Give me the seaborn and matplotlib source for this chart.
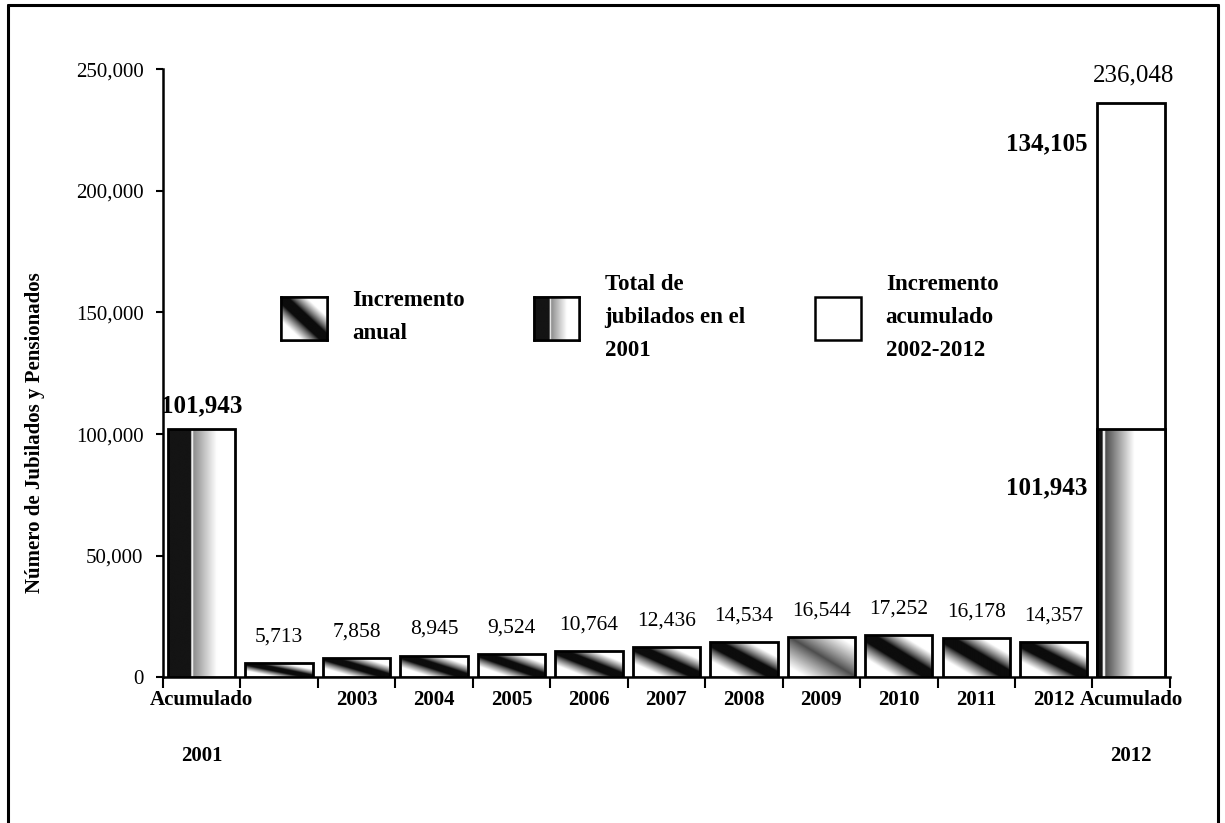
import numpy as np
import pandas as pd
import matplotlib
matplotlib.use("Agg")
import matplotlib.pyplot as plt
from matplotlib.lines import Line2D
from matplotlib.patches import Patch
from matplotlib.ticker import FixedLocator, FuncFormatter
import seaborn as sns

# ---- datos ----
categorias = ["Acumulado\n2001", "2002", "2003", "2004", "2005", "2006", "2007",
              "2008", "2009", "2010", "2011", "2012", "Acumulado\n2012"]
etiquetas_x = ["Acumulado\n2001", "", "2003", "2004", "2005", "2006", "2007",
               "2008", "2009", "2010", "2011", "2012", "Acumulado\n2012"]
anios = ["2002", "2003", "2004", "2005", "2006", "2007", "2008", "2009",
         "2010", "2011", "2012"]
incremento_anual = [5713, 7858, 8945, 9524, 10764, 12436, 14534, 16544,
                    17252, 16178, 14357]
total_2001 = 101943
incremento_acumulado = 134105
total_2012 = 236048
y_ticks = [0, 50000, 100000, 150000, 200000, 250000]
leyenda = ["Incremento\nanual", "Total de\njubilados en el\n2001",
           "Incremento\nacumulado\n2002-2012"]

sns.set_theme(style="white")
plt.rcParams["font.family"] = ["Liberation Serif", "DejaVu Serif"]

fig = plt.figure(figsize=(12.25, 8.23), dpi=100)
ax = fig.add_axes([0.133, 0.177, 0.822, 0.739])

ANCHO = 0.87
bar_kw = dict(order=categorias, edgecolor="black", linewidth=2.0, width=ANCHO,
              saturation=1, errorbar=None, ax=ax)

# barra total 2012 (parte blanca superior)
df_total = pd.DataFrame({"cat": ["Acumulado\n2012"], "val": [total_2012]})
sns.barplot(data=df_total, x="cat", y="val", color="white", zorder=1, **bar_kw)

# incrementos anuales
n0 = len(ax.patches)
df_anual = pd.DataFrame({"cat": anios, "val": incremento_anual})
sns.barplot(data=df_anual, x="cat", y="val", color="white", zorder=3, **bar_kw)
barras_anuales = ax.patches[n0:]

# total de jubilados en 2001 (base)
n1 = len(ax.patches)
df_base = pd.DataFrame({"cat": ["Acumulado\n2001", "Acumulado\n2012"],
                        "val": [total_2001, total_2001]})
sns.barplot(data=df_base, x="cat", y="val", color="white", zorder=3, **bar_kw)
barras_base = ax.patches[n1:]


# ---- rellenos degradados ----
def degradado_anual(suave=False):
    u = np.linspace(0, 1, 240)[None, :]
    v = np.linspace(0, 1, 120)[:, None]
    d = np.abs(v - u)
    if suave:
        return 0.30 + 0.70 * np.clip(d / 0.75, 0, 1) ** 0.9
    img = np.clip((d - 0.15) / 0.40, 0, 1) ** 0.8
    return 0.05 + 0.95 * img


def degradado_base(negro, gris, tono, fin):
    u = np.linspace(0, 1, 240)[None, :].repeat(40, axis=0)
    img = np.ones_like(u)
    rampa = tono + (1 - tono) * np.clip((u - gris) / (fin - gris), 0, 1)
    img = np.where(u >= gris, rampa, img)
    img = np.where((u >= negro) & (u < gris), 0.95, img)
    img = np.where(u < negro, 0.08, img)
    return img


def pintar(patch, img):
    x0, y0 = patch.get_x(), patch.get_y()
    w, h = patch.get_width(), patch.get_height()
    im = ax.imshow(img, extent=[x0, x0 + w, y0, y0 + h], origin="upper",
                   cmap="gray", vmin=0, vmax=1, aspect="auto",
                   interpolation="bilinear", zorder=patch.get_zorder() - 0.05)
    im.set_clip_path(patch)
    patch.set_facecolor("none")


for anio, p in zip(anios, barras_anuales):
    pintar(p, degradado_anual(suave=(anio == "2009")))

pintar(barras_base[0], degradado_base(0.34, 0.37, 0.55, 0.72))
pintar(barras_base[1], degradado_base(0.08, 0.12, 0.30, 0.55))

ax.set_xlim(-0.5, len(categorias) - 0.5)
ax.set_ylim(0, 250000)

# ---- ejes ----
for s in ["top", "right"]:
    ax.spines[s].set_visible(False)
for s in ["left", "bottom"]:
    ax.spines[s].set_color("black")
    ax.spines[s].set_linewidth(1.8)

ax.set_yticks(y_ticks)
ax.yaxis.set_major_formatter(FuncFormatter(lambda v, _: f"{v:,.0f}"))
ax.tick_params(axis="y", left=True, length=5, width=1.5, color="black",
               pad=9, labelsize=15, labelcolor="black")

ax.set_xticks(range(len(categorias)))
ax.set_xticklabels(etiquetas_x, fontsize=15, fontweight="bold",
                   color="black", linespacing=3.4)
ax.tick_params(axis="x", which="major", bottom=True, length=0, pad=9)
ax.xaxis.set_minor_locator(FixedLocator(np.arange(-0.5, len(categorias), 1.0)))
ax.tick_params(axis="x", which="minor", bottom=True, length=8, width=1.5,
               color="black", direction="out")
ax.set_xlabel("")

ax.set_ylabel("Número de Jubilados y Pensionados", fontsize=15,
              fontweight="bold", color="black")
ax.yaxis.set_label_coords(-0.117, 0.403)

# ---- etiquetas de valores ----
for p, val in zip(barras_anuales, incremento_anual):
    ax.annotate(f"{val:,}", (p.get_x() + p.get_width() / 2, val),
                xytext=(0, 12), textcoords="offset points",
                ha="center", va="bottom", fontsize=15.5, color="black")

b01, b12 = barras_base
ax.annotate(f"{total_2001:,}", (b01.get_x() + b01.get_width() / 2, total_2001),
            xytext=(0, 9), textcoords="offset points", ha="center",
            va="bottom", fontsize=18, fontweight="bold", color="black")
ax.annotate(f"{total_2012:,}", (b12.get_x() + b12.get_width() / 2, total_2012),
            xytext=(2, 12), textcoords="offset points", ha="center",
            va="bottom", fontsize=18, color="black")
ax.annotate(f"{incremento_acumulado:,}", (b12.get_x(), total_2012),
            xytext=(-7, -29), textcoords="offset points", ha="right",
            va="center", fontsize=18, fontweight="bold", color="black")
ax.annotate(f"{total_2001:,}", (b12.get_x(), total_2001),
            xytext=(-7, -42), textcoords="offset points", ha="right",
            va="center", fontsize=18, fontweight="bold", color="black")

# ---- leyenda ----
handles = [Patch(facecolor="white", edgecolor="black", linewidth=1.8)
           for _ in leyenda]
leg = ax.legend(handles, leyenda, loc="center left",
                bbox_to_anchor=(0.097, 0.592), ncol=3, frameon=False,
                handlelength=2.0, handleheight=2.5, handletextpad=1.1,
                columnspacing=3.0, prop={"weight": "bold", "size": 16.5})
for t in leg.get_texts():
    t.set_linespacing(1.75)
    t.set_color("black")

fig.canvas.draw()
muestras = [degradado_anual(), degradado_base(0.34, 0.37, 0.55, 0.72), None]
for p, img in zip(leg.get_patches(), muestras):
    if img is None:
        continue
    bb = p.get_window_extent().transformed(fig.transFigure.inverted())
    iax = fig.add_axes(bb.bounds)
    iax.imshow(img, cmap="gray", vmin=0, vmax=1, aspect="auto",
               interpolation="bilinear")
    iax.set_xticks([])
    iax.set_yticks([])
    for s in iax.spines.values():
        s.set_color("black")
        s.set_linewidth(1.8)

# ---- marco exterior ----
for xs, ys in [([0.0065, 0.0065], [0.0, 0.994]),
               ([0.0065, 0.9943], [0.994, 0.994]),
               ([0.9943, 0.9943], [0.0, 0.994])]:
    fig.add_artist(Line2D(xs, ys, transform=fig.transFigure,
                          color="black", linewidth=2.2))

fig.savefig("out.png", dpi=100)
